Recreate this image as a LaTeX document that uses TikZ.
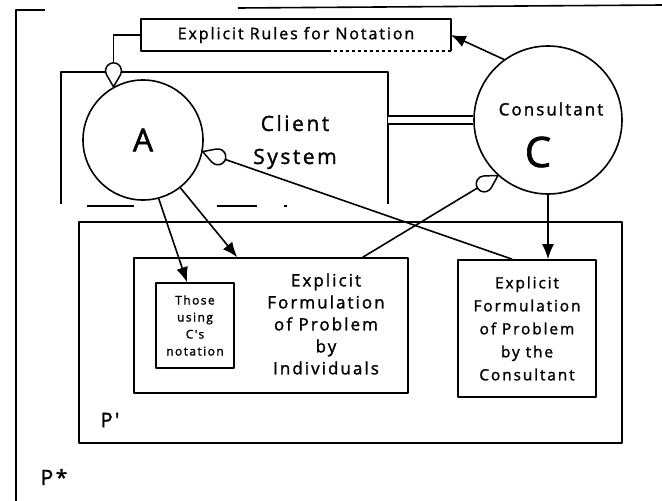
\documentclass[tikz,border=0pt]{standalone}
\usepackage{fontspec}
\setmainfont{Open Sans}[FakeBold=1.5,AutoFakeBold=1.5]
\newfontfamily\hand[LetterSpace=12,FakeBold=1.5]{Open Sans}
\usetikzlibrary{arrows.meta,calc,decorations.markings}

\begin{document}
\begin{tikzpicture}[x=1pt,y=-1pt,
  line width=1.6pt, line join=round,
  box/.style={draw, rectangle, inner sep=0pt},
  lbl/.style={align=center, inner sep=0pt},
  arr/.style={-{Latex[length=15pt,width=12pt]}},
  % open teardrop at the end of a connector, pointing into the target
  droptip/.style={postaction={decorate,decoration={markings,
     mark=at position 1 with {\draw[fill=white,line width=1.5pt]
       (0,0) -- (-12,6.93) arc[start angle=60,end angle=300,radius=8] -- cycle;}}}}
]
\useasboundingbox (0,0) rectangle (662,501);

% outer frame P*
\draw (16,501) -- (16,10) -- (45,10);
\draw (238,8) -- (662,5);

% rules box
\node[minimum width=308pt, minimum height=30pt, inner sep=0pt,
      font={\hand\fontsize{16}{19}\selectfont}] (rules) at (296,35) {Explicit Rules for Notation};
\draw ([xshift=190pt]rules.south west) -- (rules.south west) -- (rules.north west)
      -- (rules.north east) -- (rules.south east);
\draw[dashed] (rules.south east) -- ([xshift=190pt]rules.south west);

% client system box
\node[minimum width=325pt, minimum height=132pt, inner sep=0pt] (client) at (224.5,139) {};
\draw ([yshift=2pt]client.south west) -- (client.north west) -- (client.north east)
      -- ([yshift=2pt]client.south east);
\draw[dash pattern=on 47pt off 83pt on 40pt off 27pt on 3pt off 200pt]
      ([xshift=26pt]client.south west) -- (client.south east);
\node[lbl, font={\hand\fontsize{21}{33}\selectfont}] (clientlbl) at (295,142) {Client\\System};

% circles
\node[circle, draw, minimum size=120pt, inner sep=0pt,
      font={\hand\fontsize{32}{32}\selectfont}] (A) at (143,140) {A};
\node[circle, draw, minimum size=148pt, inner sep=0pt] (C) at (548,120) {};
\node[lbl, font={\hand\fontsize{17}{20}\selectfont}] (Ctitle) at (551,109) {Consultant};
\node[lbl, font={\fontsize{42}{42}\selectfont}] (Cletter) at (538,152) {C};

% problem space P'
\node[box, minimum width=543pt, minimum height=221pt] (Pp) at (350.5,332.5) {};
\node[lbl, font={\hand\fontsize{20}{20}\selectfont}] (Pplbl) at (110,420) {P'};
\node[lbl, font={\hand\fontsize{21}{21}\selectfont}] (Pstar) at (54,477) {P*};

% formulation boxes
\node[box, minimum width=274pt, minimum height=135pt] (indiv) at (271,325.5) {};
\node[lbl, font={\hand\fontsize{17}{22}\selectfont}] (indivtxt) at (326,324)
  {Explicit\\Formulation\\of Problem\\by\\Individuals};
\node[box, minimum width=78pt, minimum height=85pt,
      lbl, font={\hand\fontsize{12}{17}\selectfont}] (those) at (195,325.5)
  {Those\\using\\C's\\notation};
\node[box, minimum width=138pt, minimum height=137pt,
      lbl, font={\hand\fontsize{15.5}{23}\selectfont}] (cons) at (527,328.5)
  {Explicit\\Formulation\\of Problem\\by the\\Consultant};

% connectors
\draw[double distance=6.7pt, line width=1.4pt] (C.west) -- (C.west -| client.east);
\draw[droptip] (rules.west) -| (A.119);
\draw[arr] (C.126) -- (rules.east);
\draw[droptip] ([xshift=55pt]cons.north west) -- (A.-11);
\draw[droptip] ([xshift=-46pt]indiv.north east) -- (C.228);
\draw[arr] (C.south) -- (C.south |- cons.north);
\draw[arr] (A.-75) -- ([xshift=-8pt]those.north);
\draw[arr] (A.-52) -- ([xshift=104pt]indiv.north west);
\end{tikzpicture}
\end{document}
